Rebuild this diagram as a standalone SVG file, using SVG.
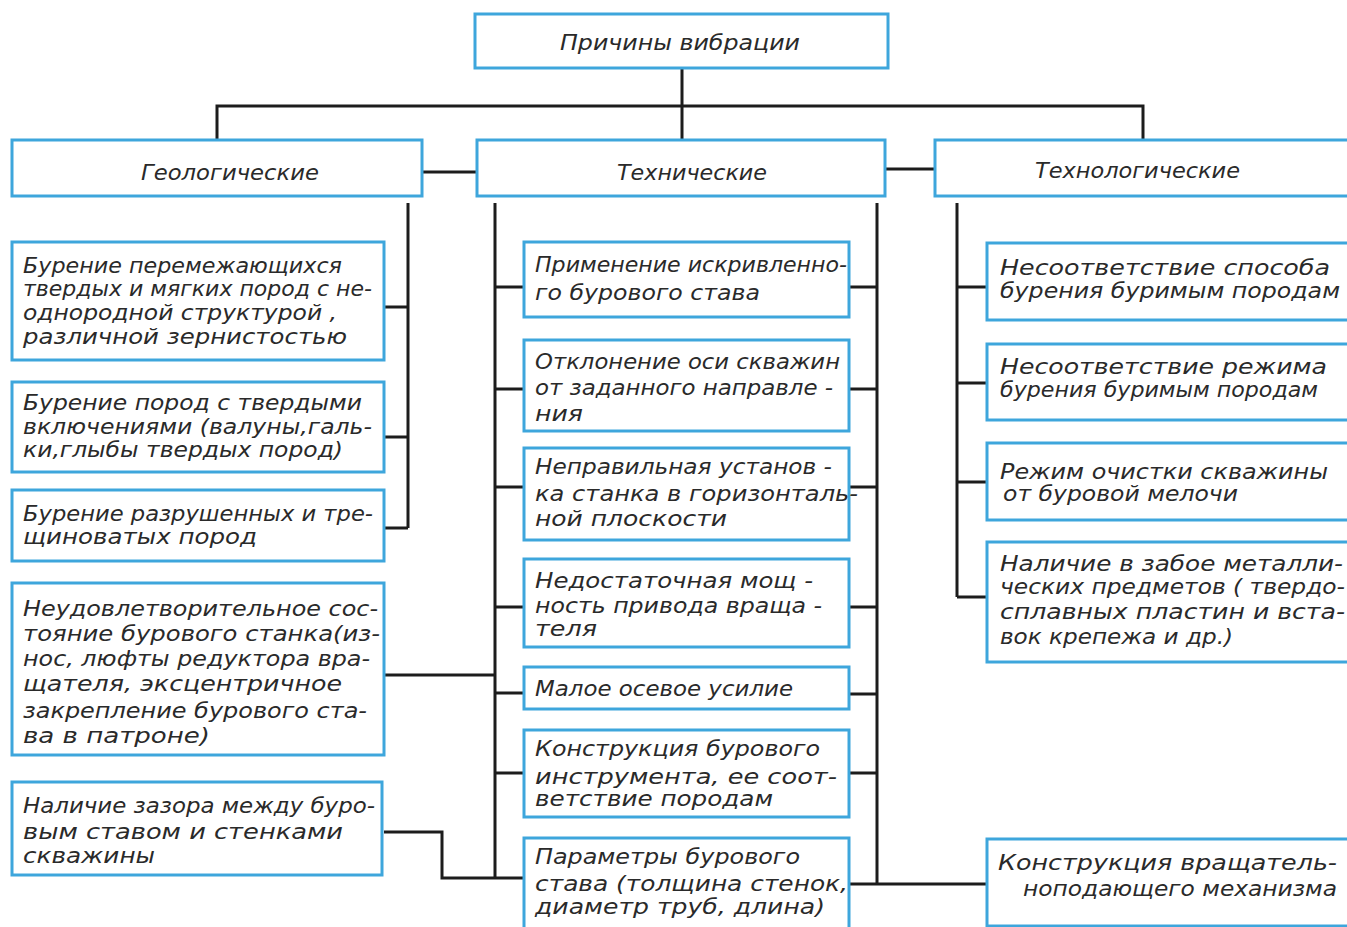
<svg xmlns="http://www.w3.org/2000/svg" width="1347" height="927" viewBox="0 0 1347 927">
<style>
.box{fill:#fff;stroke:#3ea6dc;stroke-width:3}
.ln{fill:none;stroke:#1c1c1c;stroke-width:3}
text{font-family:"DejaVu Sans","Liberation Sans",sans-serif;font-style:italic;font-size:21px;fill:#2a2a2a}
.h{font-size:22px}
</style>
<rect width="1347" height="927" fill="#fff"/>
<g id="connectors">
<path class="ln" d="M682,68 V140 M217,140 V106 H1143 V140 M422,172 H477 M885,169 H935"/>
<path class="ln" d="M408,203 V528 M384,307 H408 M384,437 H408 M384,528 H408"/>
<path class="ln" d="M495,203 V878 M495,287 H524 M495,389 H524 M495,487 H524 M495,607 H524 M495,693 H524 M495,773 H524 M495,878 H524"/>
<path class="ln" d="M384,675 H495 M384,832 H442 V878 H495"/>
<path class="ln" d="M877,203 V884 M849,287 H877 M849,389 H877 M849,487 H877 M849,607 H877 M849,694 H877 M849,773 H877 M849,884 H987"/>
<path class="ln" d="M957,203 V597 M957,287 H987 M957,383 H987 M957,482 H987 M957,597 H987"/>
</g>
<g id="root"><rect class="box" x="475" y="14" width="413" height="54"/><text class="h" x="560" y="50" textLength="240" lengthAdjust="spacingAndGlyphs">Причины вибрации</text></g>
<g id="geo"><rect class="box" x="12" y="140" width="410" height="56"/><text class="h" x="141" y="180" textLength="178" lengthAdjust="spacingAndGlyphs">Геологические</text></g>
<g id="tech"><rect class="box" x="477" y="140" width="408" height="56"/><text class="h" x="617" y="180" textLength="150" lengthAdjust="spacingAndGlyphs">Технические</text></g>
<g id="techno"><rect class="box" x="935" y="140" width="420" height="56"/><text class="h" x="1035" y="178" textLength="205" lengthAdjust="spacingAndGlyphs">Технологические</text></g>

<g id="g1"><rect class="box" x="12" y="242" width="372" height="118"/>
<text x="23" y="273" textLength="319" lengthAdjust="spacingAndGlyphs">Бурение перемежающихся</text>
<text x="23" y="296" textLength="349" lengthAdjust="spacingAndGlyphs">твердых и мягких пород с не-</text>
<text x="23" y="320" textLength="314" lengthAdjust="spacingAndGlyphs">однородной структурой ,</text>
<text x="23" y="344" textLength="324" lengthAdjust="spacingAndGlyphs">различной зернистостью</text></g>
<g id="g2"><rect class="box" x="12" y="382" width="372" height="90"/>
<text x="23" y="410" textLength="339" lengthAdjust="spacingAndGlyphs">Бурение пород с твердыми</text>
<text x="23" y="434" textLength="349" lengthAdjust="spacingAndGlyphs">включениями (валуны,галь-</text>
<text x="23" y="457" textLength="320" lengthAdjust="spacingAndGlyphs">ки,глыбы твердых пород)</text></g>
<g id="g3"><rect class="box" x="12" y="490" width="372" height="71"/>
<text x="23" y="521" textLength="350" lengthAdjust="spacingAndGlyphs">Бурение разрушенных и тре-</text>
<text x="23" y="544" textLength="234" lengthAdjust="spacingAndGlyphs">щиноватых пород</text></g>
<g id="g4"><rect class="box" x="12" y="583" width="372" height="172"/>
<text x="23" y="616" textLength="355" lengthAdjust="spacingAndGlyphs">Неудовлетворительное сос-</text>
<text x="23" y="641" textLength="357" lengthAdjust="spacingAndGlyphs">тояние бурового станка(из-</text>
<text x="23" y="666" textLength="347" lengthAdjust="spacingAndGlyphs">нос, люфты редуктора вра-</text>
<text x="23" y="691" textLength="319" lengthAdjust="spacingAndGlyphs">щателя, эксцентричное</text>
<text x="23" y="718" textLength="344" lengthAdjust="spacingAndGlyphs">закрепление бурового ста-</text>
<text x="23" y="743" textLength="187" lengthAdjust="spacingAndGlyphs">ва  в патроне)</text></g>
<g id="g5"><rect class="box" x="12" y="782" width="370" height="93"/>
<text x="23" y="813" textLength="352" lengthAdjust="spacingAndGlyphs">Наличие зазора между буро-</text>
<text x="23" y="839" textLength="320" lengthAdjust="spacingAndGlyphs">вым ставом и стенками</text>
<text x="23" y="863" textLength="132" lengthAdjust="spacingAndGlyphs">скважины</text></g>

<g id="t1"><rect class="box" x="524" y="242" width="325" height="75"/>
<text x="535" y="272" textLength="312" lengthAdjust="spacingAndGlyphs">Применение искривленно-</text>
<text x="535" y="300" textLength="225" lengthAdjust="spacingAndGlyphs">го бурового става</text></g>
<g id="t2"><rect class="box" x="524" y="340" width="325" height="91"/>
<text x="535" y="369" textLength="305" lengthAdjust="spacingAndGlyphs">Отклонение оси скважин</text>
<text x="535" y="395" textLength="298" lengthAdjust="spacingAndGlyphs">от заданного направле -</text>
<text x="535" y="421" textLength="48" lengthAdjust="spacingAndGlyphs">ния</text></g>
<g id="t3"><rect class="box" x="524" y="448" width="325" height="92"/>
<text x="535" y="474" textLength="297" lengthAdjust="spacingAndGlyphs">Неправильная установ -</text>
<text x="535" y="501" textLength="323" lengthAdjust="spacingAndGlyphs">ка станка в горизонталь-</text>
<text x="535" y="526" textLength="192" lengthAdjust="spacingAndGlyphs">ной плоскости</text></g>
<g id="t4"><rect class="box" x="524" y="559" width="325" height="88"/>
<text x="535" y="588" textLength="278" lengthAdjust="spacingAndGlyphs">Недостаточная мощ -</text>
<text x="535" y="613" textLength="287" lengthAdjust="spacingAndGlyphs">ность привода враща -</text>
<text x="535" y="636" textLength="62" lengthAdjust="spacingAndGlyphs">теля</text></g>
<g id="t5"><rect class="box" x="524" y="667" width="325" height="42"/>
<text x="535" y="696" textLength="258" lengthAdjust="spacingAndGlyphs">Малое осевое  усилие</text></g>
<g id="t6"><rect class="box" x="524" y="730" width="325" height="87"/>
<text x="535" y="756" textLength="285" lengthAdjust="spacingAndGlyphs">Конструкция бурового</text>
<text x="535" y="784" textLength="302" lengthAdjust="spacingAndGlyphs">инструмента, ее соот-</text>
<text x="535" y="806" textLength="238" lengthAdjust="spacingAndGlyphs">ветствие породам</text></g>
<g id="t7"><rect class="box" x="524" y="838" width="325" height="100"/>
<text x="535" y="864" textLength="265" lengthAdjust="spacingAndGlyphs">Параметры бурового</text>
<text x="535" y="891" textLength="313" lengthAdjust="spacingAndGlyphs">става (толщина стенок,</text>
<text x="535" y="914" textLength="290" lengthAdjust="spacingAndGlyphs">диаметр труб, длина)</text></g>

<g id="r1"><rect class="box" x="987" y="243" width="370" height="77"/>
<text x="1000" y="275" textLength="330" lengthAdjust="spacingAndGlyphs">Несоответствие способа</text>
<text x="1000" y="298" textLength="340" lengthAdjust="spacingAndGlyphs">бурения буримым породам</text></g>
<g id="r2"><rect class="box" x="987" y="344" width="370" height="76"/>
<text x="1000" y="374" textLength="327" lengthAdjust="spacingAndGlyphs">Несоответствие режима</text>
<text x="1000" y="397" textLength="318" lengthAdjust="spacingAndGlyphs">бурения буримым породам</text></g>
<g id="r3"><rect class="box" x="987" y="443" width="370" height="77"/>
<text x="1000" y="479" textLength="328" lengthAdjust="spacingAndGlyphs">Режим очистки скважины</text>
<text x="1003" y="501" textLength="235" lengthAdjust="spacingAndGlyphs">от буровой мелочи</text></g>
<g id="r4"><rect class="box" x="987" y="542" width="370" height="120"/>
<text x="1000" y="571" textLength="343" lengthAdjust="spacingAndGlyphs">Наличие в забое металли-</text>
<text x="1000" y="594" textLength="345" lengthAdjust="spacingAndGlyphs">ческих предметов ( твердо-</text>
<text x="1000" y="619" textLength="345" lengthAdjust="spacingAndGlyphs">сплавных пластин и вста-</text>
<text x="1000" y="644" textLength="233" lengthAdjust="spacingAndGlyphs">вок крепежа и др.)</text></g>
<g id="r5"><rect class="box" x="987" y="839" width="370" height="87"/>
<text x="998" y="870" textLength="339" lengthAdjust="spacingAndGlyphs">Конструкция вращатель-</text>
<text x="1023" y="896" textLength="314" lengthAdjust="spacingAndGlyphs">ноподающего механизма</text></g>
</svg>
